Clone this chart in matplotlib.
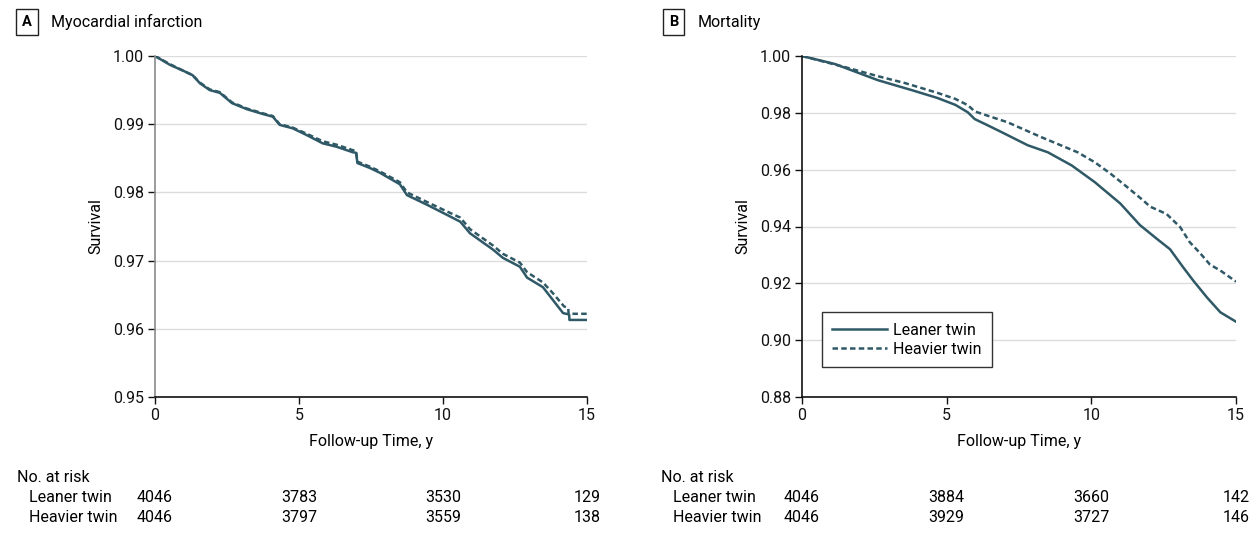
import matplotlib
matplotlib.use("Agg")
import matplotlib.pyplot as plt
from matplotlib.transforms import blended_transform_factory

plt.rcParams['font.family'] = ['Roboto', 'DejaVu Sans']
plt.rcParams['font.size'] = 11.5

# --- data ---
# Panel A: myocardial infarction
mi_lean_t = [0, 0.52, 1.0, 1.3, 1.56, 1.9, 2.25, 2.67, 3.19, 3.74, 4.09, 4.33, 4.78,
             5.27, 5.82, 6.3, 6.86, 6.98, 7.03, 7.45, 7.8, 8.5, 8.75, 9.44, 10.14, 10.6,
             10.94, 11.74, 12.08, 12.67, 12.92, 13.47, 13.82, 14.17, 14.38, 14.39, 15]
mi_lean_s = [1.0, 0.9987, 0.9978, 0.9972, 0.9960, 0.9950, 0.9946, 0.9931, 0.9922,
             0.9915, 0.9911, 0.9899, 0.9894, 0.9884, 0.9872, 0.9867, 0.9859, 0.9858,
             0.9843, 0.9836, 0.9829, 0.9812, 0.9796, 0.9782, 0.9767, 0.9757, 0.9740,
             0.9716, 0.9704, 0.9691, 0.9675, 0.9661, 0.9642, 0.9623, 0.9621, 0.9613, 0.9613]
mi_heavy_t = [0, 0.52, 1.0, 1.3, 1.56, 1.9, 2.25, 2.67, 3.19, 3.74, 4.09, 4.33, 4.78,
              5.27, 5.82, 6.3, 6.86, 6.98, 7.03, 7.45, 7.8, 8.5, 8.75, 9.44, 10.14, 10.6,
              10.94, 11.74, 12.08, 12.67, 12.92, 13.47, 13.82, 14.2, 14.35, 14.36, 15]
mi_heavy_s = [1.0, 0.9988, 0.9978, 0.9972, 0.9961, 0.9951, 0.9947, 0.9932, 0.9923,
              0.9916, 0.9912, 0.9900, 0.9895, 0.9886, 0.9875, 0.9870, 0.9862, 0.9861,
              0.9845, 0.9838, 0.9831, 0.9815, 0.9800, 0.9786, 0.9772, 0.9763, 0.9746,
              0.9722, 0.9710, 0.9697, 0.9683, 0.9668, 0.9652, 0.9633, 0.9630, 0.9622, 0.9622]

# Panel B: mortality
mort_lean_t = [0, 1.13, 2.62, 3.79, 4.69, 5.3, 5.73, 5.97, 6.4, 6.9, 7.8, 8.5, 9.32,
               10.12, 11.0, 11.68, 12.26, 12.72, 13.17, 13.52, 14.0, 14.46, 15]
mort_lean_s = [1.0, 0.9972, 0.9915, 0.9880, 0.9852, 0.9828, 0.9802, 0.9778, 0.9757,
               0.9732, 0.9686, 0.9661, 0.9615, 0.9556, 0.9481, 0.9405, 0.9357, 0.9320,
               0.9257, 0.9210, 0.9150, 0.9098, 0.9065]
mort_heavy_t = [0, 1.48, 2.62, 3.55, 4.69, 5.3, 5.73, 5.97, 6.5, 7.1, 8.28, 9.53, 10.12,
                10.65, 11.2, 11.79, 12.03, 12.6, 13.07, 13.4, 13.77, 14.1, 14.46, 15]
mort_heavy_s = [1.0, 0.9961, 0.9929, 0.9905, 0.9870, 0.9849, 0.9827, 0.9805, 0.9787,
                0.9767, 0.9714, 0.9661, 0.9626, 0.9587, 0.9542, 0.9492, 0.9470, 0.9444,
                0.9398, 0.9345, 0.9305, 0.9266, 0.9245, 0.9206]

risk_times = [0, 5, 10, 15]
mi_risk_lean = [4046, 3783, 3530, 129]
mi_risk_heavy = [4046, 3797, 3559, 138]
mort_risk_lean = [4046, 3884, 3660, 142]
mort_risk_heavy = [4046, 3929, 3727, 146]

group_names = ['Leaner twin', 'Heavier twin']
line_color = '#2f5966'

W, H = 1259, 544
fig = plt.figure(figsize=(W / 100, H / 100), dpi=100)


def px_axes(x0, x1, y0, y1):
    return fig.add_axes([x0 / W, 1 - y1 / H, (x1 - x0) / W, (y1 - y0) / H])


def draw_panel(ax, lean_t, lean_s, heavy_t, heavy_s, ylim, yticks, left_color):
    ax.plot(lean_t, lean_s, color=line_color, lw=1.8, label=group_names[0])
    ax.plot(heavy_t, heavy_s, color=line_color, lw=1.8, ls=(0, (2.2, 1.3)),
            label=group_names[1])
    ax.set_xlim(0, 15)
    ax.set_ylim(*ylim)
    ax.set_xticks([0, 5, 10, 15])
    ax.set_yticks(yticks)
    ax.set_yticklabels(['%.2f' % v for v in yticks])
    ax.grid(axis='y', color='#dcdcdc', lw=1)
    ax.set_axisbelow(True)
    for s in ['top', 'right']:
        ax.spines[s].set_visible(False)
    ax.spines['left'].set_color(left_color)
    ax.spines['left'].set_linewidth(1.2)
    ax.spines['bottom'].set_color('#111111')
    ax.spines['bottom'].set_linewidth(1.2)
    ax.tick_params(direction='out', length=5, width=1, colors='#111111',
                   labelsize=11.5, pad=3)
    ax.set_xlabel('Follow-up Time, y', fontsize=11.5, labelpad=8)
    ax.set_ylabel('Survival', fontsize=11.5, labelpad=7)


def risk_table(ax, lean, heavy, x_lab):
    tr = blended_transform_factory(ax.transData, fig.transFigure)
    fig.text(x_lab / W, 1 - 477 / H, 'No. at risk', va='center', ha='left')
    fig.text((x_lab + 12) / W, 1 - 498 / H, group_names[0], va='center', ha='left')
    fig.text((x_lab + 12) / W, 1 - 517 / H, group_names[1], va='center', ha='left')
    for t, a, b in zip(risk_times, lean, heavy):
        ax.text(t, 1 - 498 / H, str(a), transform=tr, ha='center', va='center',
                clip_on=False)
        ax.text(t, 1 - 517 / H, str(b), transform=tr, ha='center', va='center',
                clip_on=False)


def panel_title(x, letter, title):
    fig.text(x / W, 1 - 22 / H, letter, ha='left', va='center', fontsize=10.5,
             fontweight='bold',
             bbox=dict(boxstyle='square,pad=0.4', fc='white', ec='#222222', lw=1))
    fig.text((x + 29) / W, 1 - 22 / H, title, ha='left', va='center', fontsize=11.5)


axA = px_axes(155, 587, 56, 397)
draw_panel(axA, mi_lean_t, mi_lean_s, mi_heavy_t, mi_heavy_s, (0.95, 1.0),
           [0.95, 0.96, 0.97, 0.98, 0.99, 1.00], '#8a8a8a')
risk_table(axA, mi_risk_lean, mi_risk_heavy, 17)
panel_title(22, 'A', 'Myocardial infarction')

axB = px_axes(802, 1236, 56, 397)
draw_panel(axB, mort_lean_t, mort_lean_s, mort_heavy_t, mort_heavy_s, (0.88, 1.0),
           [0.88, 0.90, 0.92, 0.94, 0.96, 0.98, 1.00], '#111111')
risk_table(axB, mort_risk_lean, mort_risk_heavy, 661)
panel_title(669, 'B', 'Mortality')

leg = axB.legend(loc='lower left', bbox_to_anchor=(0.046, 0.088), borderaxespad=0,
                 fancybox=False, edgecolor='#333333', framealpha=1, fontsize=11.5,
                 handlelength=3.4, handletextpad=0.4, borderpad=0.65, labelspacing=0.25)
leg.get_frame().set_linewidth(1)

fig.savefig('out.png', dpi=100)
